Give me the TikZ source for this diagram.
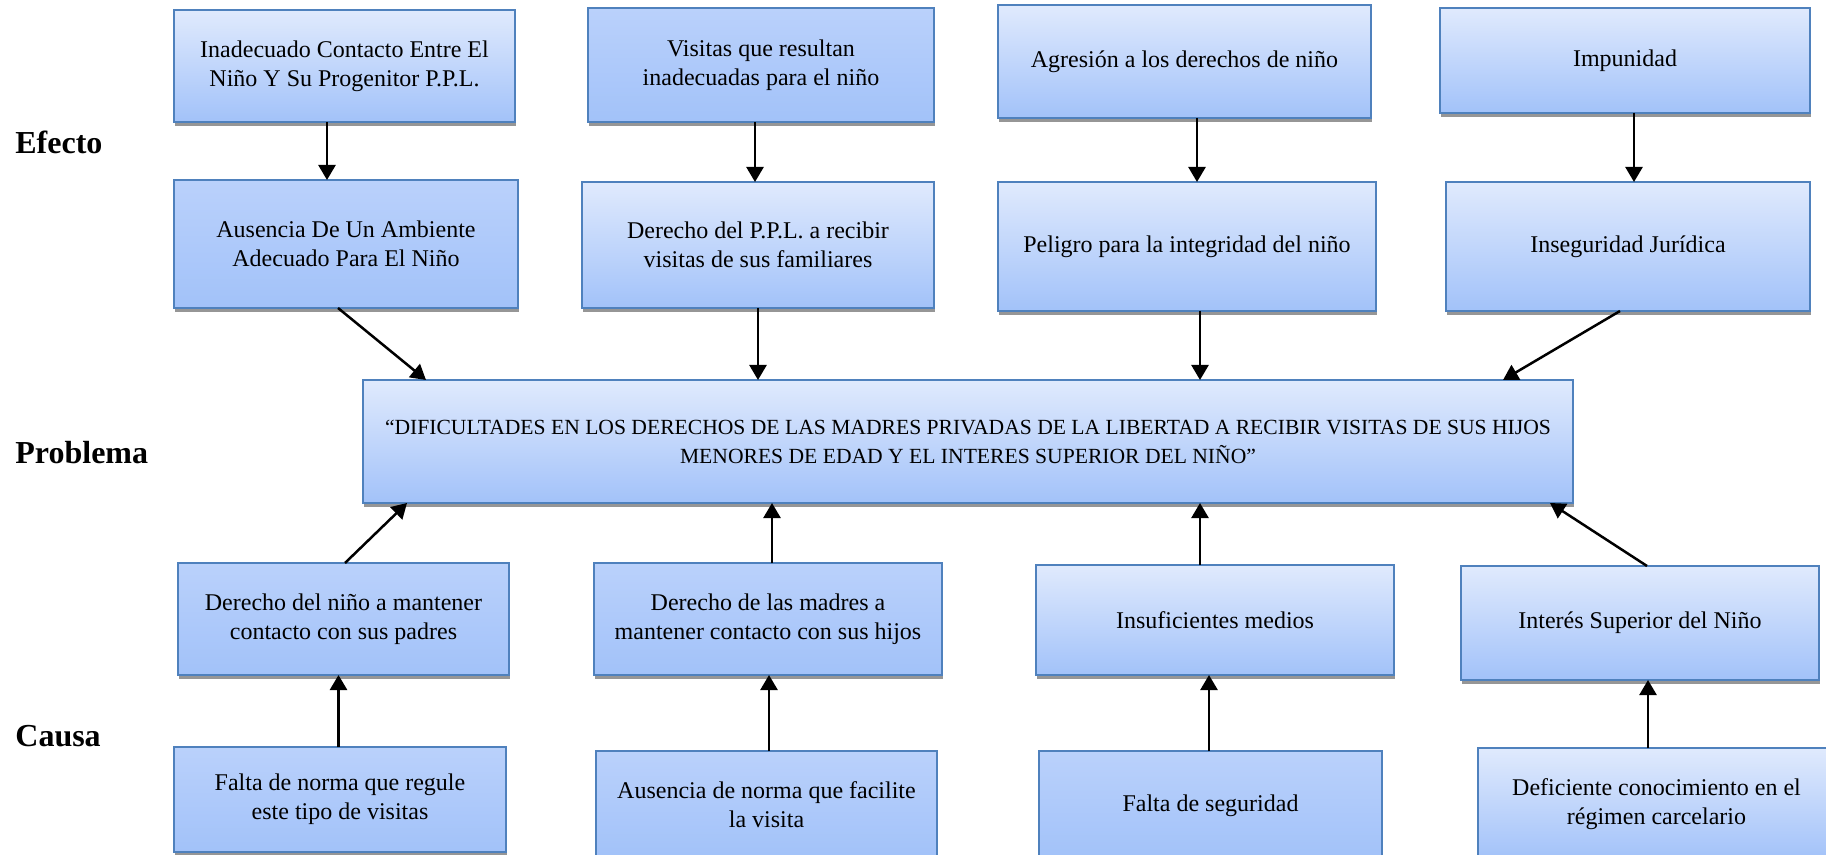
\documentclass[tikz,border=0pt]{standalone}
\usepackage{fontspec}
\setmainfont{Liberation Serif}
\usetikzlibrary{arrows.meta,shadows,calc}
\definecolor{bord}{HTML}{4F81BD}
\definecolor{topl}{HTML}{E0EAFD}
\definecolor{topm}{HTML}{BAD1FB}
\definecolor{botc}{HTML}{A2C2F9}
\definecolor{shd}{HTML}{969696}
\tikzset{
  cbox/.style={draw=bord, line width=1pt, top color=topl, bottom color=botc,
    drop shadow={shadow xshift=0.5pt, shadow yshift=-2.2pt, fill=shd, opacity=1},
    inner sep=0pt, outer sep=0pt, align=center, font=\fontsize{12}{14.5}\selectfont},
  cboxb/.style={cbox, top color=topm},
  arr/.style={line width=1.25pt, -{Triangle[length=7.5pt,width=8.5pt]}},
  lbl/.style={font=\fontsize{16}{19}\selectfont\bfseries, anchor=base west, inner sep=0pt}
}
\newcommand\bx[7]{\node[#1, minimum width={(#5-#3)*0.5pt}, minimum height={(#6-#4)*0.5pt}] (#2) at ({(#3+#5)/2},{(#4+#6)/2}) {#7};}
\begin{document}
\begin{tikzpicture}[x=0.5pt,y=-0.5pt]
\useasboundingbox (0,0) rectangle (1826,855);
% labels
\node[lbl] (le) at (15,154) {Efecto};
\node[lbl] (lp) at (15,464) {Problema};
\node[lbl] (lc) at (15,746) {Causa};
% effect row 1
\bx{cbox}{A1}{174}{10}{515}{122}{Inadecuado Contacto Entre El\\Niño Y Su Progenitor P.P.L.}
\bx{cboxb}{A2}{588}{8}{934}{122}{Visitas que resultan\\inadecuadas para el niño}
\bx{cbox}{A3}{998}{5}{1371}{118}{Agresión a los derechos de niño}
\bx{cbox}{A4}{1440}{8}{1810}{113}{Impunidad}
% effect row 2
\bx{cboxb}{B1}{174}{180}{518}{308}{Ausencia De Un Ambiente\\Adecuado Para El Niño}
\bx{cbox}{B2}{582}{182}{934}{308}{Derecho del P.P.L. a recibir\\visitas de sus familiares}
\bx{cbox}{B3}{998}{182}{1376}{311}{Peligro para la integridad del niño}
\bx{cbox}{B4}{1446}{182}{1810}{311}{Inseguridad Jurídica}
% problem
\node[cbox, font=\fontsize{10.8}{14.5}\selectfont, minimum width={(1573-363)*0.5pt}, minimum height={(503-380)*0.5pt}] (P) at ({(363+1573)/2},{(380+503)/2})
 {“DIFICULTADES EN LOS DERECHOS DE LAS MADRES PRIVADAS DE LA LIBERTAD A RECIBIR VISITAS DE SUS HIJOS\\MENORES DE EDAD Y EL INTERES SUPERIOR DEL NIÑO”};
% causes row 1
\bx{cboxb}{C1}{178}{563}{509}{675}{Derecho del niño a mantener\\contacto con sus padres}
\bx{cboxb}{C2}{594}{563}{942}{675}{Derecho de las madres a\\mantener contacto con sus hijos}
\bx{cbox}{C3}{1036}{565}{1394}{675}{Insuficientes medios}
\bx{cbox}{C4}{1461}{566}{1819}{680}{Interés Superior del Niño}
% causes row 2
\bx{cboxb}{D1}{174}{747}{506}{852}{Falta de norma que regule\\este tipo de visitas}
\bx{cboxb}{D2}{596}{751}{937}{858}{Ausencia de norma que facilite\\la visita}
\bx{cboxb}{D3}{1039}{751}{1382}{860}{Falta de seguridad}
\bx{cbox}{D4}{1478}{748}{1835}{860}{Deficiente conocimiento en el\\régimen carcelario}
% arrows effect
\draw[arr] ([xshift=-8.75pt]A1.south) -- ([xshift=-8.75pt]A1.south |- B1.north);
\draw[arr] ([xshift=-3pt]A2.south) -- ([xshift=-3pt]A2.south |- B2.north);
\draw[arr] ([xshift=6.25pt]A3.south) -- ([xshift=6.25pt]A3.south |- B3.north);
\draw[arr] ([xshift=4.5pt]A4.south) -- ([xshift=4.5pt]A4.south |- B4.north);
\draw[arr] ([xshift=-4pt]B1.south) -- ([xshift=31.5pt]P.north west);
\draw[arr] (B2.south) -- (B2.south |- P.north);
\draw[arr] ([xshift=6.5pt]B3.south) -- ([xshift=6.5pt]B3.south |- P.north);
\draw[arr] ([xshift=-4pt]B4.south) -- ([xshift=-35pt]P.north east);
% arrows causes
\draw[arr] ([xshift=0.75pt]C1.north) -- ([xshift=22pt]P.south west);
\draw[arr] ([xshift=2pt]C2.north) -- ([xshift=2pt]C2.north |- P.south);
\draw[arr] ([xshift=-7.5pt]C3.north) -- ([xshift=-7.5pt]C3.north |- P.south);
\draw[arr] ([xshift=3.5pt]C4.north) -- ([xshift=-11.5pt]P.south east);
\draw[arr] ([xshift=-0.75pt]D1.north) -- ([xshift=-0.75pt]D1.north |- C1.south);
\draw[arr] ([xshift=1.25pt]D2.north) -- ([xshift=1.25pt]D2.north |- C2.south);
\draw[arr] ([xshift=-0.75pt]D3.north) -- ([xshift=-0.75pt]D3.north |- C3.south);
\draw[arr] ([xshift=-4.25pt]D4.north) -- ([xshift=-4.25pt]D4.north |- C4.south);
\end{tikzpicture}
\end{document}
